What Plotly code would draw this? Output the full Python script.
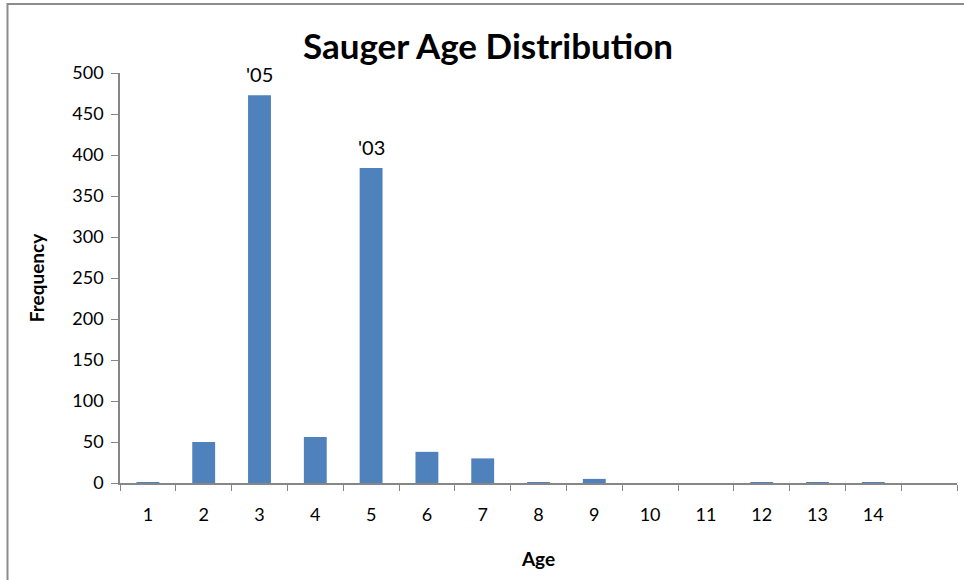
import plotly.graph_objects as go

ages = ["1", "2", "3", "4", "5", "6", "7", "8", "9", "10", "11", "12", "13", "14", " "]
frequency = [1, 50, 473, 56, 384, 38, 30, 1, 5, 0, 0, 1, 1, 1, 0]
labels = ["", "", "'05", "", "'03", "", "", "", "", "", "", "", "", "", ""]
y_ticks = [0, 50, 100, 150, 200, 250, 300, 350, 400, 450, 500]

FONT = "Lato"
AXIS = "#868686"

fig = go.Figure()
fig.add_trace(go.Bar(
    x=ages, y=frequency, marker=dict(color="#4F81BD", line=dict(width=0)),
    hoverinfo="x+y",
))

for i, (v, t) in enumerate(zip(frequency, labels)):
    if t:
        fig.add_annotation(x=i, y=v, text=t, showarrow=False, yanchor="bottom",
                           yshift=7, font=dict(family=FONT, size=20, color="#000"))

fig.update_layout(
    width=964, height=580,
    margin=dict(l=120, r=7, t=73, b=97, autoexpand=False),
    paper_bgcolor="white", plot_bgcolor="white",
    bargap=0.59,
    showlegend=False,
    title=dict(text="<b>Sauger Age Distribution</b>", x=0.4397, xref="paper", xanchor="center",
               y=1 - 47 / 580, yref="container", yanchor="middle",
               font=dict(family=FONT, size=35, color="#000")),
    font=dict(family=FONT, color="#000"),
)

fig.update_xaxes(
    type="category", categoryorder="array", categoryarray=ages,
    tickson="boundaries", ticks="outside", ticklen=6, tickcolor=AXIS, tickwidth=1,
    showline=True, linecolor=AXIS, linewidth=1.5, showgrid=False,
    tickfont=dict(family=FONT, size=18, color="#000"), ticklabelstandoff=15,
    title=dict(text="<b>Age</b>", font=dict(family=FONT, size=19, color="#000"), standoff=28),
    automargin=False, fixedrange=True,
)
fig.update_yaxes(
    range=[0, 500], tickvals=y_ticks, ticks="outside", ticklen=7, tickcolor=AXIS,
    showline=True, linecolor=AXIS, linewidth=1.5, showgrid=False, zeroline=False,
    tickfont=dict(family=FONT, size=18, color="#000"), ticklabelstandoff=4,
    title=dict(text="<b>Frequency</b>", font=dict(family=FONT, size=19, color="#000"), standoff=23),
    automargin=False, fixedrange=True,
)

# outer chart frame (partially visible, cropped on right and bottom)
fig.add_shape(type="rect", xref="paper", yref="paper",
              x0=(7.5 - 120) / 837, x1=1.2, y0=-0.4, y1=(483 - 4) / 410,
              line=dict(color="#8C8C8C", width=2), fillcolor="rgba(0,0,0,0)", layer="below")

fig.write_html("out.html", config={"displayModeBar": False},
               post_script="document.body.style.margin='0';document.body.style.overflow='hidden';")
